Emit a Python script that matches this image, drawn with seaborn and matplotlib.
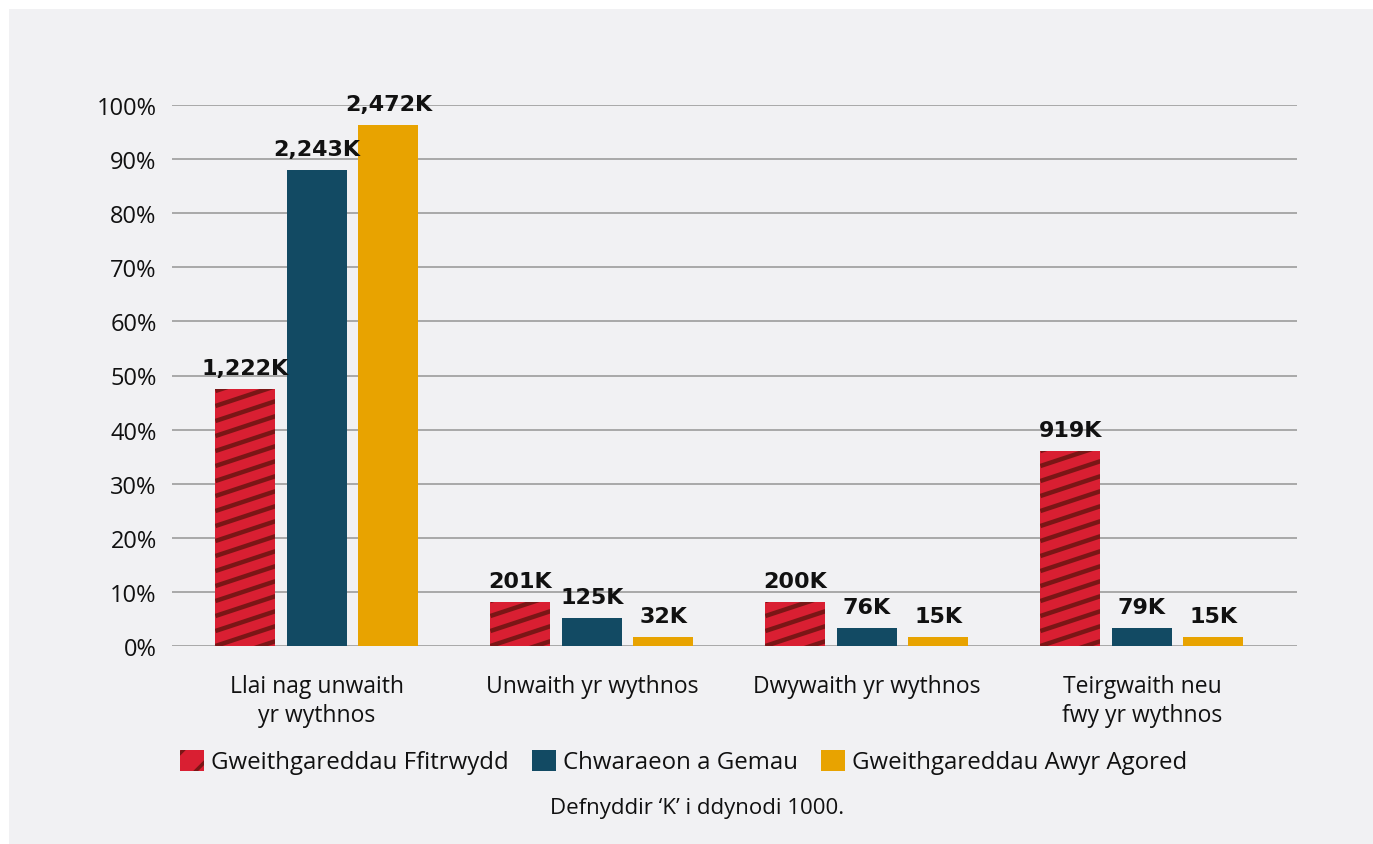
import matplotlib.pyplot as plt
import numpy as np
import pandas as pd
import seaborn as sns
from matplotlib.collections import LineCollection
from matplotlib.patches import Patch, Rectangle
from matplotlib.transforms import IdentityTransform

# Data (percent of respondents)
categories = ["Llai nag unwaith\nyr wythnos", "Unwaith yr wythnos",
              "Dwywaith yr wythnos", "Teirgwaith neu\nfwy yr wythnos"]
series = ["Gweithgareddau Ffitrwydd", "Chwaraeon a Gemau",
          "Gweithgareddau Awyr Agored"]
fitness = [47.5, 8.1, 8.1, 36.0]
sports = [88.0, 5.2, 3.3, 3.3]
outdoor = [96.3, 1.7, 1.7, 1.7]
fitness_labels = ["1,222K", "201K", "200K", "919K"]
sports_labels = ["2,243K", "125K", "76K", "79K"]
outdoor_labels = ["2,472K", "32K", "15K", "15K"]
yticks = [0, 10, 20, 30, 40, 50, 60, 70, 80, 90, 100]
footnote = "Defnyddir \u2018K\u2019 i ddynodi 1000."

colors = ["#d91f32", "#124a63", "#e8a300"]
stripe_color = "#7a1616"
bg = "#f1f1f3"

df = pd.DataFrame({
    "category": categories * 3,
    "series": [s for s in series for _ in categories],
    "value": fitness + sports + outdoor,
})

sns.set_theme(style="white")
plt.rcParams["font.family"] = ["Open Sans", "DejaVu Sans"]
plt.rcParams["hatch.linewidth"] = 2.5

fig = plt.figure(figsize=(13.73, 8.45), dpi=100)
fig.patch.set_facecolor("white")
fig.patches.append(Rectangle((9 / 1373, 0), 1, 1 - 10 / 845, transform=fig.transFigure,
                             facecolor=bg, edgecolor="none", zorder=-10))
ax = fig.add_axes([172 / 1373, 1 - 647 / 845, (1297 - 172) / 1373, (647 - 106) / 845])
ax.set_facecolor("none")

sns.barplot(data=df, x="category", y="value", hue="series", hue_order=series,
            palette=colors, width=0.78, gap=0.16, saturation=1, legend=False,
            linewidth=0, edgecolor="none", ax=ax, zorder=3)

ax.set_xlim(-0.527, 3.564)
ax.set_ylim(0, 100)
ax.set_yticks(yticks)
ax.set_yticklabels([f"{t}%" for t in yticks])
ax.grid(axis="y", color="#a3a3a3", linewidth=1.3, zorder=0)
ax.grid(axis="x", visible=False)
for s in ax.spines.values():
    s.set_visible(False)
ax.tick_params(axis="y", length=0, pad=11, labelsize=17, labelcolor="#111111")
ax.tick_params(axis="x", length=0, pad=20, labelsize=16.5, labelcolor="#111111")
for lab in ax.get_xticklabels():
    lab.set_linespacing(1.3)
ax.set_xlabel("")
ax.set_ylabel("")

# value labels
for cont, labs in zip(ax.containers, [fitness_labels, sports_labels, outdoor_labels]):
    ax.bar_label(cont, labels=labs, padding=8, fontsize=16, fontweight="bold",
                 family="DejaVu Sans", color="#111111")

# shallow diagonal stripes on the fitness bars
slope, step = 0.33, 15
for bar in ax.containers[0]:
    (x0, y0), (x1, y1) = ax.transData.transform(
        [(bar.get_x(), bar.get_y()), (bar.get_x() + bar.get_width(), bar.get_y() + bar.get_height())])
    w = x1 - x0
    segs = []
    for k in range(-int(np.ceil(slope * w / step)) - 1, int(np.ceil((y1 - y0) / step)) + 1):
        yb = y0 + k * step
        segs.append([(x0, yb), (x1, yb + slope * w)])
    lc = LineCollection(segs, colors=stripe_color, linewidths=3.2,
                        transform=IdentityTransform(), zorder=4)
    ax.add_collection(lc)
    lc.set_clip_path(bar)

handles = [Patch(facecolor=colors[0], edgecolor=stripe_color, linewidth=0, hatch="/"),
           Patch(facecolor=colors[1], edgecolor="none"),
           Patch(facecolor=colors[2], edgecolor="none")]
fig.legend(handles, series, loc="center", bbox_to_anchor=(0.498, 1 - 763 / 845),
           ncol=3, frameon=False, fontsize=17.3, handlelength=1.0, handleheight=1.0,
           handletextpad=0.3, columnspacing=0.95, labelcolor="#111111")

fig.text(0.508, 1 - 809 / 845, footnote, ha="center", va="center",
         fontsize=16, color="#111111")

fig.savefig("out.png", dpi=100, facecolor=fig.get_facecolor())
